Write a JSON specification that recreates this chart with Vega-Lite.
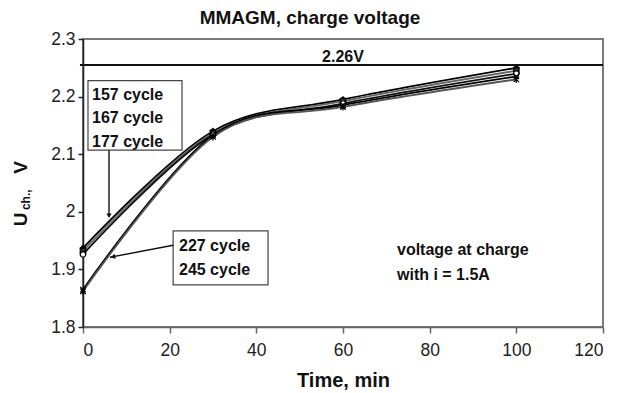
{
  "$schema": "https://vega.github.io/schema/vega-lite/v6.json",
  "width": 520,
  "height": 288,
  "autosize": {"type": "none"},
  "padding": {"left": 83, "top": 39, "right": 17, "bottom": 66},
  "background": "white",
  "config": {
    "font": "Liberation Sans",
    "view": {"stroke": "#7a7a7a", "strokeWidth": 2},
    "axis": {"grid": false, "labelFont": "Liberation Sans", "labelFontSize": 17.5, "labelColor": "#222", "tickSize": 5, "domainWidth": 1.5, "tickWidth": 1.5}
  },
  "title": {"text": "MMAGM, charge voltage", "fontSize": 19, "font": "Liberation Sans", "fontWeight": "bold", "color": "#111", "anchor": "middle", "dx": -33, "offset": 2},
  "datasets": {
    "series": [
      {"x": 0, "y": 1.937, "s": "157 cycle"}, {"x": 30, "y": 2.140, "s": "157 cycle"}, {"x": 60, "y": 2.195, "s": "157 cycle"}, {"x": 100, "y": 2.250, "s": "157 cycle"},
      {"x": 0, "y": 1.932, "s": "167 cycle"}, {"x": 30, "y": 2.137, "s": "167 cycle"}, {"x": 60, "y": 2.192, "s": "167 cycle"}, {"x": 100, "y": 2.245, "s": "167 cycle"},
      {"x": 0, "y": 1.926, "s": "177 cycle"}, {"x": 30, "y": 2.134, "s": "177 cycle"}, {"x": 60, "y": 2.188, "s": "177 cycle"}, {"x": 100, "y": 2.240, "s": "177 cycle"},
      {"x": 0, "y": 1.865, "s": "227 cycle"}, {"x": 30, "y": 2.133, "s": "227 cycle"}, {"x": 60, "y": 2.185, "s": "227 cycle"}, {"x": 100, "y": 2.235, "s": "227 cycle"},
      {"x": 0, "y": 1.862, "s": "245 cycle"}, {"x": 30, "y": 2.130, "s": "245 cycle"}, {"x": 60, "y": 2.182, "s": "245 cycle"}, {"x": 100, "y": 2.230, "s": "245 cycle"}
    ],
    "boxes": [
      {"x": 1.15, "x2": 22.85, "y": 2.2276, "y2": 2.107},
      {"x": 20.8, "x2": 42.7, "y": 1.967, "y2": 1.873}
    ],
    "labels": [
      {"x": 2.08, "y": 2.2028, "label": "157 cycle"},
      {"x": 2.08, "y": 2.1628, "label": "167 cycle"},
      {"x": 2.08, "y": 2.1212, "label": "177  cycle"},
      {"x": 22.15, "y": 1.9406, "label": "227 cycle"},
      {"x": 22.15, "y": 1.899, "label": "245 cycle"},
      {"x": 72.46, "y": 1.9337, "label": "voltage at charge"},
      {"x": 72.46, "y": 1.8903, "label": "with i = 1.5A"}
    ],
    "arrows": [
      {"x": 6.0, "y": 2.107, "x2": 6.0, "y2": 1.995},
      {"x": 20.8, "y": 1.942, "x2": 6.2, "y2": 1.921}
    ],
    "heads": [
      {"x": 6.0, "y": 1.993, "shape": "triangle-down", "angle": 0},
      {"x": 6.9, "y": 1.922, "shape": "triangle-left", "angle": -11}
    ]
  },
  "encoding": {
    "x": {"field": "x", "type": "quantitative", "scale": {"domain": [0, 120], "nice": false, "zero": false},
      "axis": {"values": [0, 20, 40, 60, 80, 100, 120], "title": "Time, min", "titleFontSize": 20, "titleFontWeight": "bold", "titleFont": "Liberation Sans", "titleColor": "#111", "titlePadding": 12, "labelPadding": 8, "domainColor": "#666", "tickColor": "#666", "tickSize": 6}},
    "y": {"field": "y", "type": "quantitative", "scale": {"domain": [1.8, 2.3], "nice": false, "zero": false},
      "axis": {"values": [1.8, 1.9, 2.0, 2.1, 2.2, 2.3], "format": ".1~f", "title": null, "labelPadding": 3, "domainColor": "#222", "tickColor": "#222"}}
  },
  "layer": [
    {
      "data": {"name": "series"},
      "mark": {"type": "line", "interpolate": "cardinal", "strokeWidth": 1.8},
      "encoding": {
        "detail": {"field": "s"},
        "color": {"field": "s", "type": "nominal", "legend": null, "scale": {"domain": ["157 cycle", "167 cycle", "177 cycle", "227 cycle", "245 cycle"], "range": ["#000000", "#666666", "#111111", "#000000", "#555555"]}}
      }
    },
    {
      "data": {"name": "series"},
      "mark": {"type": "point", "size": 30, "strokeWidth": 1.2, "opacity": 1, "fillOpacity": 1},
      "encoding": {
        "shape": {"field": "s", "type": "nominal", "legend": null, "scale": {"domain": ["157 cycle", "167 cycle", "177 cycle", "227 cycle", "245 cycle"], "range": ["diamond", "square", "circle", "M-1,-1L1,1M1,-1L-1,1", "M-1,-1L1,1M1,-1L-1,1M0,-1.3L0,1.3"]}},
        "fill": {"field": "s", "type": "nominal", "legend": null, "scale": {"domain": ["157 cycle", "167 cycle", "177 cycle", "227 cycle", "245 cycle"], "range": ["#000000", "#333333", "#ffffff", "#000000", "#000000"]}},
        "stroke": {"value": "#000000"}
      }
    },
    {
      "data": {"values": [{"x": -0.7, "x2": 120, "y": 2.255}]},
      "mark": {"type": "rule", "color": "#111", "strokeWidth": 2},
      "encoding": {"x2": {"field": "x2"}}
    },
    {
      "data": {"name": "boxes"},
      "mark": {"type": "rect", "fill": "white", "stroke": "#444", "strokeWidth": 1.2},
      "encoding": {"x2": {"field": "x2"}, "y2": {"field": "y2"}}
    },
    {
      "data": {"name": "labels"},
      "mark": {"type": "text", "align": "left", "baseline": "middle", "fontSize": 16, "fontWeight": "bold", "font": "Liberation Sans", "color": "#111"},
      "encoding": {"text": {"field": "label"}}
    },
    {
      "data": {"values": [{"x": 60, "y": 2.2695, "label": "2.26V"}]},
      "mark": {"type": "text", "align": "center", "baseline": "middle", "fontSize": 16, "fontWeight": "bold", "font": "Liberation Sans", "color": "#111"},
      "encoding": {"text": {"field": "label"}}
    },
    {
      "data": {"name": "arrows"},
      "mark": {"type": "rule", "color": "#111", "strokeWidth": 1.4},
      "encoding": {"x2": {"field": "x2"}, "y2": {"field": "y2"}}
    },
    {
      "data": {"name": "heads"},
      "mark": {"type": "point", "filled": true, "color": "#111", "size": 28, "opacity": 1},
      "encoding": {"shape": {"field": "shape", "type": "nominal", "scale": null}, "angle": {"field": "angle", "type": "quantitative", "scale": null}}
    },
    {
      "data": {"values": [
        {"x": -12.9, "y": 1.975, "label": "U", "fs": 19},
        {"x": -12.3, "y": 2.003, "label": "ch.,", "fs": 12},
        {"x": -12.9, "y": 2.066, "label": "V", "fs": 19}
      ]},
      "mark": {"type": "text", "align": "left", "baseline": "alphabetic", "angle": 270, "fontWeight": "bold", "font": "Liberation Sans", "color": "#111"},
      "encoding": {"text": {"field": "label"}, "size": {"field": "fs", "type": "quantitative", "scale": null}}
    }
  ]
}
